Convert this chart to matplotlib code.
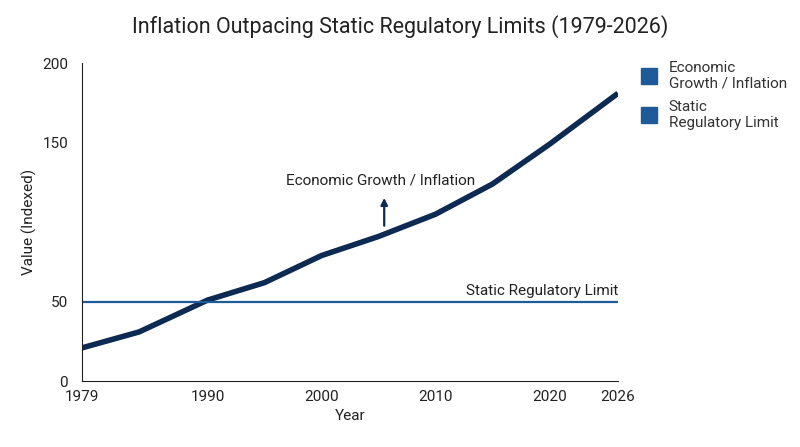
import matplotlib.pyplot as plt
from matplotlib.lines import Line2D

plt.rcParams['font.family'] = ['Roboto', 'DejaVu Sans']

years = [1979, 1984, 1990, 1995, 2000, 2005, 2010, 2015, 2020, 2026]
growth = [21, 31, 51, 62, 79, 91, 105, 124, 149, 181]
limit_value = 50
x_ticks = [1979, 1990, 2000, 2010, 2020, 2026]
y_ticks = [0, 50, 150, 200]

navy = '#0c2a52'
blue = '#1f5b99'

fig = plt.figure(figsize=(8, 4.47), dpi=100)
ax = fig.add_axes([0.1025, 0.147, 0.67, 0.712])
ax.plot(years, growth, color=navy, linewidth=4, solid_capstyle='butt')
ax.axhline(limit_value, color=blue, linewidth=1.6)

ax.set_xlim(1979, 2026)
ax.set_ylim(0, 200)
ax.set_xticks(x_ticks)
ax.set_yticks(y_ticks)
ax.tick_params(labelsize=11, colors='#222222', length=0)
ax.tick_params(axis='y', pad=10)
ax.tick_params(axis='x', pad=6)
for s in ['top', 'right']:
    ax.spines[s].set_visible(False)
for s in ['left', 'bottom']:
    ax.spines[s].set_color('#222222')
ax.set_xlabel('Year', fontsize=11, color='#222222')
ax.set_ylabel('Value (Indexed)', fontsize=11, color='#222222')
fig.text(0.5, 0.94, 'Inflation Outpacing Static Regulatory Limits (1979-2026)',
         fontsize=15.5, color='#222222', ha='center', va='center')

ax.text(2005.2, 126, 'Economic Growth / Inflation', fontsize=11,
        color='#222222', ha='center', va='center')
ax.annotate('', xy=(2005.5, 117), xytext=(2005.5, 96),
            arrowprops=dict(arrowstyle='-|>', color=navy, lw=1.6))
ax.text(2026, 57, 'Static Regulatory Limit', fontsize=11,
        color='#222222', ha='right', va='center')

handles = [Line2D([], [], marker='s', linestyle='', color=blue, markersize=11),
           Line2D([], [], marker='s', linestyle='', color=blue, markersize=11)]
fig.legend(handles, ['Economic\nGrowth / Inflation', 'Static\nRegulatory Limit'],
           loc='upper left', bbox_to_anchor=(0.775, 0.895), frameon=False,
           fontsize=11, handletextpad=0.3, labelspacing=0.6, labelcolor='#333333')

fig.savefig('out.png', dpi=100)
